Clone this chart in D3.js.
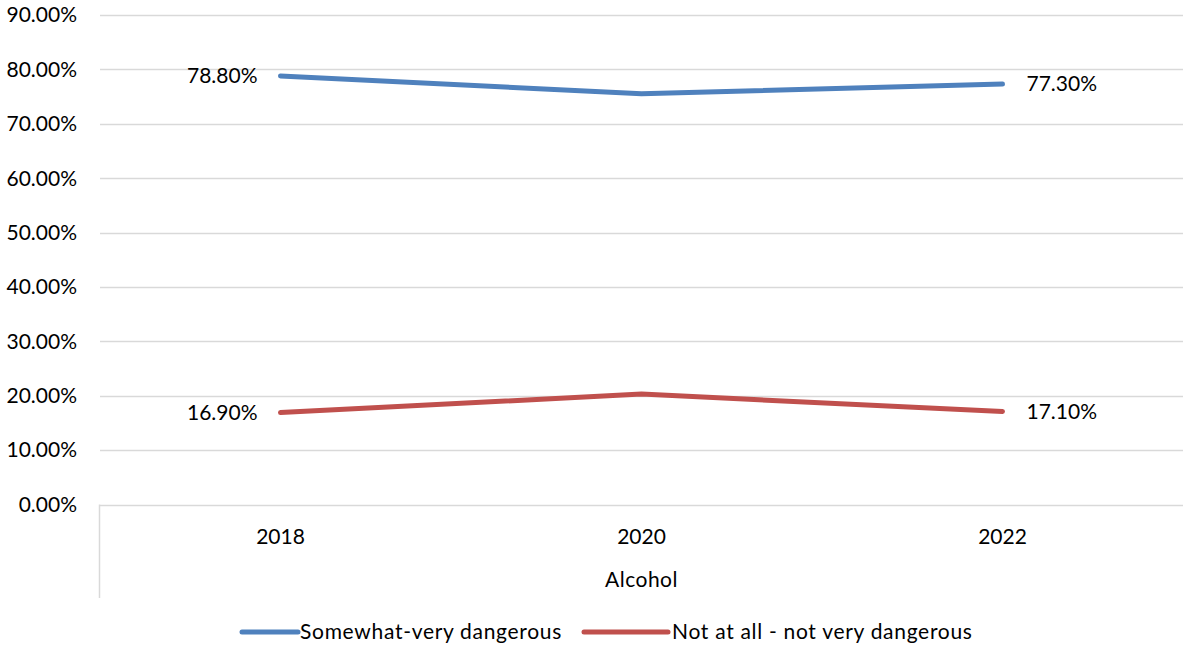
<!DOCTYPE html>
<html>
<head>
<meta charset="utf-8">
<script src="https://cdn.jsdelivr.net/npm/d3@7"></script>
<style>
  html, body { margin: 0; padding: 0; background: #fff; }
  svg { display: block; font-family: Lato, "Open Sans", sans-serif; }
</style>
</head>
<body>
<svg id="chart" width="1183" height="649"></svg>
<script>
// Survey years and perceived-danger shares for alcohol (percent)
const years = ["2018", "2020", "2022"];
const somewhatVery = [78.8, 75.5, 77.3];
const notAtAllNotVery = [16.9, 20.3, 17.1];
const seriesNames = ["Somewhat-very dangerous", "Not at all - not very dangerous"];
const seriesColors = ["#4f81bd", "#c0504d"];
const yTicks = [0, 10, 20, 30, 40, 50, 60, 70, 80, 90];
const groupLabel = "Alcohol";

const series = [
  { name: seriesNames[0], color: seriesColors[0], values: somewhatVery },
  { name: seriesNames[1], color: seriesColors[1], values: notAtAllNotVery }
];

const svg = d3.select("#chart");
const plot = { left: 100, right: 1183, top: 15, bottom: 504.5 };
const FS = 21;

const x = d3.scaleBand().domain(years).range([plot.left, plot.right]);
const y = d3.scaleLinear().domain([0, 90]).range([plot.bottom, plot.top]);
const fmt = v => v.toFixed(2) + "%";

// horizontal gridlines
svg.append("g")
  .selectAll("line")
  .data(yTicks)
  .join("line")
  .attr("x1", plot.left).attr("x2", plot.right)
  .attr("y1", d => Math.round(y(d)) + 0.5).attr("y2", d => Math.round(y(d)) + 0.5)
  .attr("stroke", "#d9d9d9").attr("stroke-width", 1.5);

// y tick labels
svg.append("g")
  .selectAll("text")
  .data(yTicks)
  .join("text")
  .attr("x", 77).attr("y", d => y(d))
  .attr("dy", "0.35em")
  .attr("text-anchor", "end")
  .attr("font-size", FS)
  .attr("fill", "#000")
  .text(d => d.toFixed(2) + "%");

// left edge of the multi-level category axis
svg.append("line")
  .attr("x1", plot.left - 0.5).attr("x2", plot.left - 0.5)
  .attr("y1", plot.bottom).attr("y2", 598)
  .attr("stroke", "#d9d9d9").attr("stroke-width", 1.5);

// category labels
svg.append("g")
  .selectAll("text")
  .data(years)
  .join("text")
  .attr("x", d => x(d) + x.bandwidth() / 2)
  .attr("y", 537)
  .attr("dy", "0.35em")
  .attr("text-anchor", "middle")
  .attr("font-size", FS)
  .text(d => d);

svg.append("text")
  .attr("x", (plot.left + plot.right) / 2)
  .attr("y", 580)
  .attr("dy", "0.35em")
  .attr("text-anchor", "middle")
  .attr("font-size", FS)
  .attr("letter-spacing", 0.5)
  .text(groupLabel);

// series lines
const line = d3.line()
  .x((d, i) => x(years[i]) + x.bandwidth() / 2)
  .y(d => y(d));

svg.append("g")
  .selectAll("path")
  .data(series)
  .join("path")
  .attr("d", s => line(s.values))
  .attr("fill", "none")
  .attr("stroke", s => s.color)
  .attr("stroke-width", 5)
  .attr("stroke-linecap", "round")
  .attr("stroke-linejoin", "round");

// value labels at first and last points
series.forEach(s => {
  const last = s.values.length - 1;
  svg.append("text")
    .attr("x", x(years[0]) + x.bandwidth() / 2 - 23)
    .attr("y", y(s.values[0]))
    .attr("dy", "0.35em")
    .attr("text-anchor", "end")
    .attr("font-size", FS)
    .text(fmt(s.values[0]));
  svg.append("text")
    .attr("x", x(years[last]) + x.bandwidth() / 2 + 24)
    .attr("y", y(s.values[last]))
    .attr("dy", "0.35em")
    .attr("text-anchor", "start")
    .attr("font-size", FS)
    .text(fmt(s.values[last]));
});

// legend
const legendItems = [
  { x0: 242, x1: 298, tx: 300 },
  { x0: 584, x1: 668, tx: 672 }
];
const lg = svg.append("g");
series.forEach((s, i) => {
  const li = legendItems[i];
  lg.append("line")
    .attr("x1", li.x0).attr("x2", li.x1)
    .attr("y1", 632).attr("y2", 632)
    .attr("stroke", s.color).attr("stroke-width", 5)
    .attr("stroke-linecap", "round");
  lg.append("text")
    .attr("x", li.tx).attr("y", 632)
    .attr("dy", "0.35em")
    .attr("font-size", FS)
    .attr("letter-spacing", 0.7)
    .text(s.name);
});
</script>
</body>
</html>
